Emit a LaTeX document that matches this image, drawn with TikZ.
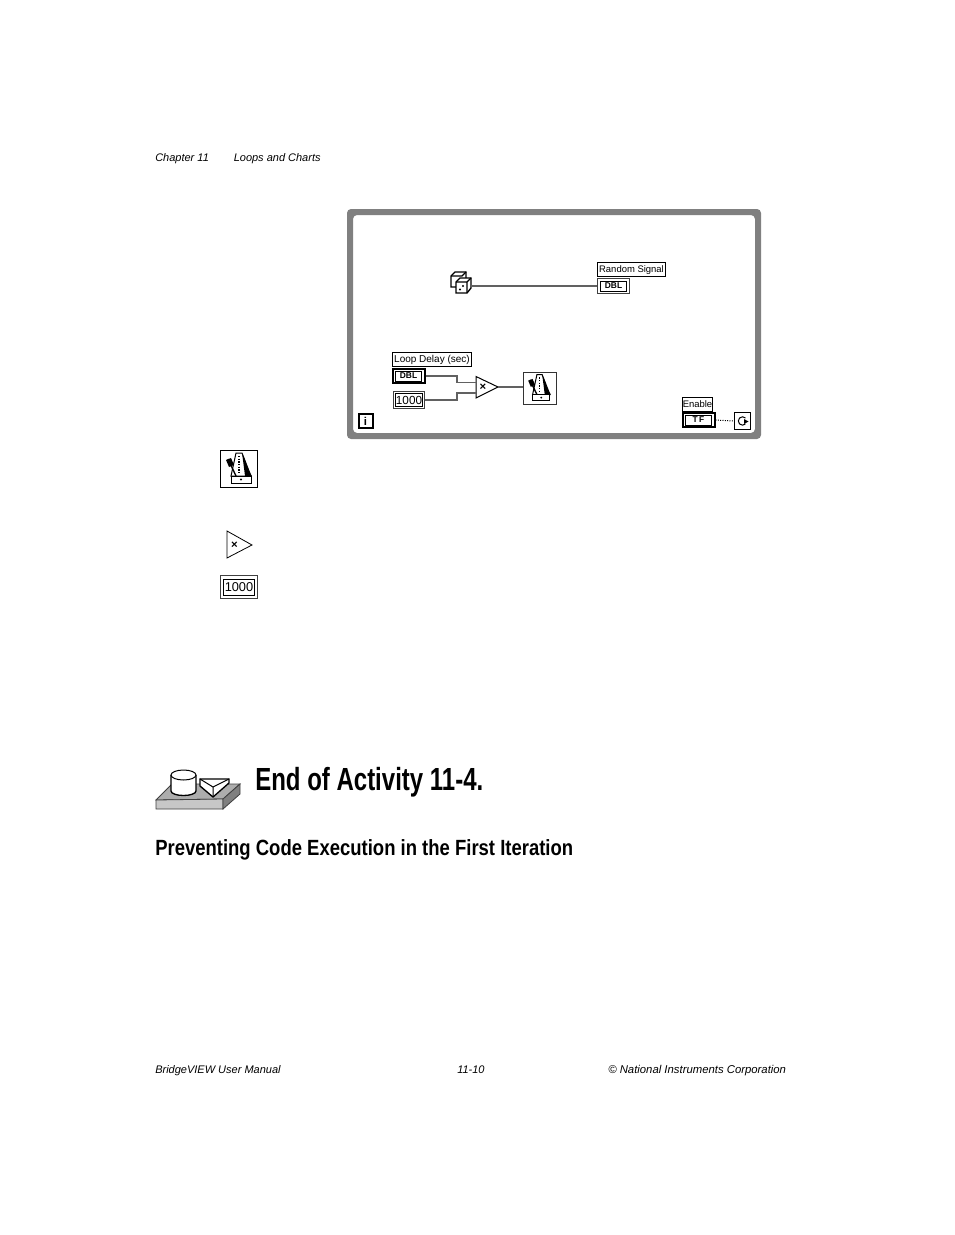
\documentclass[tikz,border=0pt]{standalone}
\usepackage{fontspec}
\setmainfont{Liberation Sans}
\newfontfamily\headfont[FakeStretch=0.75]{Liberation Sans}
\newfontfamily\subfont[FakeStretch=0.84]{Liberation Sans}
\usetikzlibrary{calc,positioning,shapes.geometric}

\tikzset{
  pagetext/.style={anchor=base west,inner sep=0pt,font=\fontsize{8.25}{10}\selectfont\itshape},
  tag/.style={draw=black,fill=white,line width=0.6pt,inner sep=0pt,text height=5.2pt,text depth=0pt,font=\fontsize{7.1}{8}\selectfont},
  term/.style={draw=black,fill=white,line width=0.75pt,inner sep=0pt,minimum height=7.5pt,text height=4.4pt,text depth=0pt,font=\fontsize{6.3}{7}\selectfont\bfseries},
  ctrl/.style={draw=black,fill=white,line width=1.5pt,inner sep=0pt},
  indi/.style={draw=black!75,fill=white,line width=1pt,inner sep=0pt},
  numtag/.style={draw=black,fill=white,line width=0.5pt,inner sep=0pt,font=\fontsize{8.8}{10}\selectfont},
  timessign/.style={inner sep=0pt,font=\fontsize{8.5}{9}\selectfont\bfseries},
  wire/.style={draw=black!62,line width=0.9pt},
  metronome/.pic={
    \draw[line width=0.75pt,fill=white] (16,3) -- (22,3) -- (31,26) -- (11,26) -- cycle;
    \fill[black] (22,3) .. controls (26,10) and (27,20) .. (32,26) -- (25,26) .. controls (24,18) and (23,10) .. cycle;
    \draw[line width=0.75pt,fill=white] (11,26) rectangle (31,33);
    \draw[line width=1pt] (8,9) -- (16,26);
    \fill[black] (6,10) -- (11,8) -- (14,15) -- (9,17) -- cycle;
    \draw[densely dotted,line width=1pt] (19,6) -- (19,24);
    \fill[black] (21,29.5) circle (1.2);
  },
  dice/.pic={
    \draw[line width=1pt,fill=white] (0,5) -- (4,1) -- (15,1) -- (15,10) -- (11,16) -- (0,16) -- cycle;
    \draw[line width=1pt] (0,5) -- (11,5) -- (15,1);
    \draw[line width=1pt,fill=white] (5,11) -- (9,7) -- (20,7) -- (20,17) -- (16,22) -- (5,22) -- cycle;
    \draw[line width=1pt] (5,11) -- (16,11) -- (20,7) (16,11) -- (16,22);
    \fill[black] (9,18.5) circle (1.2) (12,15) circle (1.2);
  }
}

\begin{document}
\begin{tikzpicture}[x=0.75pt,y=-0.75pt]
  \useasboundingbox[fill=white] (0,0) rectangle (954,1235);

  \node[pagetext] (chapter) at (155,161) {Chapter 11};
  \node[pagetext] (section) at (233.5,161) {Loops and Charts};

  \fill[black!50,even odd rule,rounded corners=3pt]
    (347,209) rectangle (761,439)
    (353,215) rectangle (755,433);

  \node[draw=black,line width=1.5pt,minimum width=10.5pt,minimum height=10.5pt,inner sep=0pt,font=\fontsize{8.5}{9}\selectfont\bfseries] (iter) at (365.5,421) {i};

  \pic at (451,271) {dice};
  \coordinate (diceout) at (471,286);

  \node[tag,minimum width=51.5pt,minimum height=10.5pt] (signallabel) at (631.5,269.5) {Random Signal};
  \node[indi,minimum width=24pt,minimum height=11.5pt] (signal) at (613.5,286) {};
  \node[term,minimum width=19.5pt] at (signal) {DBL};

  \node[tag,minimum width=59.5pt,minimum height=10.5pt,font=\fontsize{7.5}{8}\selectfont] (delaylabel) at (432,359) {Loop Delay (sec)};
  \node[ctrl,minimum width=24pt,minimum height=11pt] (delay) at (408.5,376) {};
  \node[term,minimum width=19.5pt] at (delay) {DBL};
  \node[indi,minimum width=23pt,minimum height=13pt] (thousand) at (409,400) {};
  \node[numtag,minimum width=20pt,minimum height=9.5pt] at (thousand) {1000};

  \draw[line width=0.75pt,fill=white] (476,376.5) -- (498,387) coordinate (mulout) -- (476,398) -- cycle;
  \node[timessign] (mulsign) at (483,387) {×};
  \coordinate (mula) at (476,382.5);
  \coordinate (mulc) at (476,393);

  \node[draw=black!80,fill=white,line width=0.75pt,minimum width=24.5pt,minimum height=24.5pt,inner sep=0pt] (wait) at (540,388.5) {};
  \coordinate (waitin) at (523,387);
  \pic[scale=0.87] at (523,372) {metronome};

  \node[tag,minimum width=23pt,minimum height=10.5pt] (enablelabel) at (697.5,404) {Enable};
  \node[ctrl,minimum width=24pt,minimum height=11pt] (enable) at (698.5,420) {};
  \node[term,minimum width=19.5pt] at (enable) {T\,F};
  \node[draw=black,line width=0.6pt,minimum width=12.5pt,minimum height=12.5pt,inner sep=0pt] (stopcond) at (742.5,421) {};
  \draw[line width=0.75pt] ($(stopcond)+(3,-3)$) arc (-45:-315:4.2);
  \fill[black] ($(stopcond)+(1.5,-2)$) -- ($(stopcond)+(6,0.5)$) -- ($(stopcond)+(1.5,3)$) -- cycle;

  \path[wire]
    (diceout) edge (signal.west)
    (mulout) edge (waitin);
  \draw[wire] (delay.east) -- (457,376) -- (457,382.5) -- (mula);
  \draw[wire] (thousand.east) -- (457,400) -- (457,393) -- (mulc);
  \draw[densely dotted,line width=0.75pt] (enable.east) -- (stopcond.west);

  \node[draw=black,line width=1pt,fill=white,minimum width=27.5pt,minimum height=27.5pt,inner sep=0pt] (waiticon) at (239,469) {};
  \pic at (220,450) {metronome};

  \draw[line width=0.6pt,fill=white] (227,531) -- (252,545) -- (227,558) -- cycle;
  \node[timessign] (mulicon) at (234.5,545) {×};

  \node[indi,minimum width=27.5pt,minimum height=17pt] (consticon) at (239,587) {};
  \node[numtag,minimum width=23pt,minimum height=12pt,font=\fontsize{9.6}{11}\selectfont] at (consticon) {1000};

  \draw[black!75,line width=0.6pt,fill=black!32] (156,800) -- (172,784) -- (240,784) -- (223,799) -- cycle;
  \draw[black!75,line width=0.6pt,fill=black!22] (156,800) -- (223,799) -- (223,809) -- (156,809) -- cycle;
  \draw[black!75,line width=0.6pt,fill=black!50] (223,799) -- (240,784) -- (240,794) -- (223,809) -- cycle;
  \draw[line width=1pt,fill=white] (171,775) -- (171,791) arc (180:0:12.5 and 4.5) -- (196,775);
  \draw[line width=0.75pt,fill=white] (183.5,775) ellipse (12.5 and 5);
  \draw[line width=1pt,fill=white] (200,779) -- (229,779) -- (229,783) -- (213,797) -- (200,786) -- cycle;
  \draw[line width=0.75pt] (200,779) -- (213,787) -- (229,779) (213,787) -- (213,797);

  \node[anchor=base west,inner sep=0pt,font=\fontsize{24}{28}\selectfont\headfont\bfseries] (heading) at (255,790) {End of Activity 11-4.};
  \node[anchor=base west,inner sep=0pt,font=\fontsize{16.5}{20}\selectfont\subfont\bfseries] (subheading) at (155,855) {Preventing Code Execution in the First Iteration};

  \node[pagetext] (manual) at (155,1073) {BridgeVIEW User Manual};
  \node[pagetext] (pageno) at (457,1073) {11-10};
  \node[pagetext,font=\fontsize{8.5}{10}\selectfont\itshape] (copyright) at (608,1073) {© National Instruments Corporation};
\end{tikzpicture}
\end{document}
